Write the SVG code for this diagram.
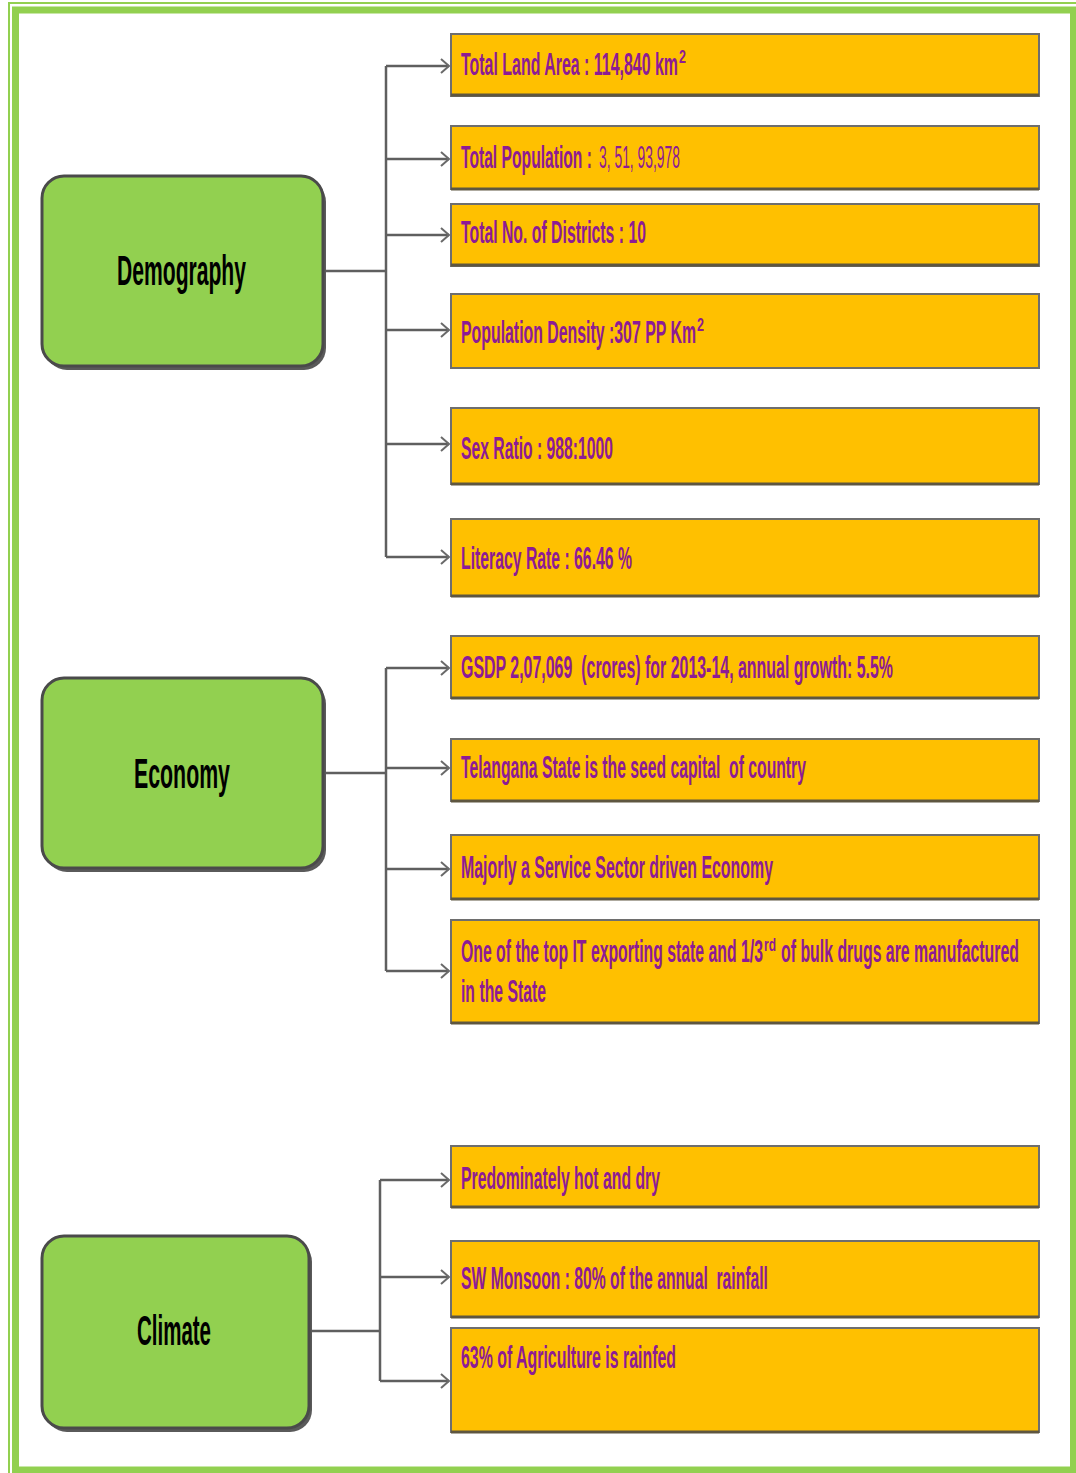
<svg xmlns="http://www.w3.org/2000/svg" width="1076" height="1473" viewBox="0 0 1076 1473">
  <defs>
    <style>
      .frame { fill: none; stroke: #92d050; }
      .cat-shadow { fill: #5a5a5a; }
      .cat { fill: #92d050; stroke: #4a4a4a; stroke-width: 3; }
      .cat-label { font-family: "Liberation Sans", Arial, sans-serif; font-weight: bold; font-size: 20px; fill: #000; }
      .fact { fill: #ffc000; stroke: #6e6e6e; stroke-width: 2; }
      .fact-base { stroke: #5e5640; stroke-width: 3; }
      .fact-label { font-family: "Liberation Sans", Arial, sans-serif; font-weight: bold; font-size: 15px; fill: #8d1b95; }
      .sup { font-size: 8.5px; }
      .num { font-weight: normal; }
      .wire { fill: none; stroke: #5f5f5f; stroke-width: 2.5; }
    </style>
    <marker id="chevron" markerWidth="12" markerHeight="16" refX="10" refY="8" orient="auto" markerUnits="userSpaceOnUse">
      <path d="M2,1 L10,8 L2,15" fill="none" stroke="#6a6a6a" stroke-width="2"/>
    </marker>
  </defs>

  <rect width="1076" height="1473" fill="#ffffff"/>

  <!-- page frame: thin outer rule and thick inner band -->
  <rect class="frame" x="9" y="3" width="1080" height="1480" stroke-width="2"/>
  <rect class="frame" x="15.5" y="10" width="1058" height="1460" stroke-width="7"/>

  <!-- connectors -->
  <g id="connectors">
    <path class="wire" d="M323,271 H386 M386,66 V557"/>
    <path class="wire" marker-end="url(#chevron)" d="M386,66 H449"/>
    <path class="wire" marker-end="url(#chevron)" d="M386,159 H449"/>
    <path class="wire" marker-end="url(#chevron)" d="M386,235 H449"/>
    <path class="wire" marker-end="url(#chevron)" d="M386,330 H449"/>
    <path class="wire" marker-end="url(#chevron)" d="M386,444 H449"/>
    <path class="wire" marker-end="url(#chevron)" d="M386,557 H449"/>

    <path class="wire" d="M323,773 H386 M386,668 V971"/>
    <path class="wire" marker-end="url(#chevron)" d="M386,668 H449"/>
    <path class="wire" marker-end="url(#chevron)" d="M386,768 H449"/>
    <path class="wire" marker-end="url(#chevron)" d="M386,869 H449"/>
    <path class="wire" marker-end="url(#chevron)" d="M386,971 H449"/>

    <path class="wire" d="M309,1331 H380 M380,1180 V1381"/>
    <path class="wire" marker-end="url(#chevron)" d="M380,1180 H449"/>
    <path class="wire" marker-end="url(#chevron)" d="M380,1277 H449"/>
    <path class="wire" marker-end="url(#chevron)" d="M380,1381 H449"/>
  </g>

  <!-- category nodes (labels stretched 2.1x vertically about their baselines) -->
  <g id="demography">
    <rect class="cat-shadow" x="45" y="180" width="281" height="190" rx="22"/>
    <rect class="cat" x="42" y="176" width="281" height="190" rx="22"/>
    <text class="cat-label" x="117" y="285" transform="matrix(1 0 0 2.1 0 -313.5)" textLength="129" lengthAdjust="spacingAndGlyphs">Demography</text>
  </g>
  <g id="economy">
    <rect class="cat-shadow" x="45" y="682" width="281" height="190" rx="22"/>
    <rect class="cat" x="42" y="678" width="281" height="190" rx="22"/>
    <text class="cat-label" x="134" y="788" transform="matrix(1 0 0 2.1 0 -866.8)" textLength="96" lengthAdjust="spacingAndGlyphs">Economy</text>
  </g>
  <g id="climate">
    <rect class="cat-shadow" x="45" y="1240" width="267" height="192" rx="22"/>
    <rect class="cat" x="42" y="1236" width="267" height="192" rx="22"/>
    <text class="cat-label" x="137" y="1345" transform="matrix(1 0 0 2.1 0 -1479.5)" textLength="74" lengthAdjust="spacingAndGlyphs">Climate</text>
  </g>

  <!-- demography facts -->
  <g id="land-area">
    <rect class="fact" x="451" y="34" width="588" height="62"/>
    <line class="fact-base" x1="451" y1="95" x2="1039" y2="95"/>
    <text class="fact-label" x="461" y="75" transform="matrix(1 0 0 2.1 0 -82.5)" textLength="217" lengthAdjust="spacingAndGlyphs">Total Land Area : 114,840 km</text>
    <text class="fact-label sup" x="679" y="63" transform="matrix(1 0 0 2.1 0 -69.3)" textLength="7" lengthAdjust="spacingAndGlyphs">2</text>
  </g>
  <g id="population">
    <rect class="fact" x="451" y="126" width="588" height="63"/>
    <line class="fact-base" x1="451" y1="189" x2="1039" y2="189"/>
    <text class="fact-label" x="461" y="168" transform="matrix(1 0 0 2.1 0 -184.8)" textLength="131" lengthAdjust="spacingAndGlyphs">Total Population :</text>
    <text class="fact-label num" x="599" y="168" transform="matrix(1 0 0 2.1 0 -184.8)" textLength="81" lengthAdjust="spacingAndGlyphs">3, 51, 93,978</text>
  </g>
  <g id="districts">
    <rect class="fact" x="451" y="204" width="588" height="62"/>
    <line class="fact-base" x1="451" y1="265" x2="1039" y2="265"/>
    <text class="fact-label" x="461" y="243" transform="matrix(1 0 0 2.1 0 -267.3)" textLength="185" lengthAdjust="spacingAndGlyphs">Total No. of Districts : 10</text>
  </g>
  <g id="density">
    <rect class="fact" x="451" y="294" width="588" height="74"/>
    <text class="fact-label" x="461" y="343" transform="matrix(1 0 0 2.1 0 -377.3)" textLength="235" lengthAdjust="spacingAndGlyphs">Population Density :307 PP Km</text>
    <text class="fact-label sup" x="697" y="331" transform="matrix(1 0 0 2.1 0 -364.1)" textLength="7" lengthAdjust="spacingAndGlyphs">2</text>
  </g>
  <g id="sex-ratio">
    <rect class="fact" x="451" y="408" width="588" height="76"/>
    <line class="fact-base" x1="451" y1="484" x2="1039" y2="484"/>
    <text class="fact-label" x="461" y="459" transform="matrix(1 0 0 2.1 0 -504.9)" textLength="152" lengthAdjust="spacingAndGlyphs">Sex Ratio : 988:1000</text>
  </g>
  <g id="literacy">
    <rect class="fact" x="451" y="519" width="588" height="77"/>
    <line class="fact-base" x1="451" y1="596" x2="1039" y2="596"/>
    <text class="fact-label" x="461" y="569" transform="matrix(1 0 0 2.1 0 -625.9)" textLength="171" lengthAdjust="spacingAndGlyphs">Literacy Rate : 66.46 %</text>
  </g>

  <!-- economy facts -->
  <g id="gsdp">
    <rect class="fact" x="451" y="636" width="588" height="62"/>
    <line class="fact-base" x1="451" y1="698" x2="1039" y2="698"/>
    <text class="fact-label" x="461" y="678" transform="matrix(1 0 0 2.1 0 -745.8)" textLength="432" lengthAdjust="spacingAndGlyphs" xml:space="preserve">GSDP 2,07,069  (crores) for 2013-14, annual growth: 5.5%</text>
  </g>
  <g id="seed-capital">
    <rect class="fact" x="451" y="739" width="588" height="62"/>
    <line class="fact-base" x1="451" y1="801" x2="1039" y2="801" stroke="#80808a"/>
    <text class="fact-label" x="461" y="778" transform="matrix(1 0 0 2.1 0 -855.8)" textLength="345" lengthAdjust="spacingAndGlyphs" xml:space="preserve">Telangana State is the seed capital  of country</text>
  </g>
  <g id="service-sector">
    <rect class="fact" x="451" y="835" width="588" height="64"/>
    <line class="fact-base" x1="451" y1="899" x2="1039" y2="899"/>
    <text class="fact-label" x="461" y="878" transform="matrix(1 0 0 2.1 0 -965.8)" textLength="312" lengthAdjust="spacingAndGlyphs">Majorly a Service Sector driven Economy</text>
  </g>
  <g id="it-exports">
    <rect class="fact" x="451" y="920" width="588" height="103"/>
    <line class="fact-base" x1="451" y1="1023" x2="1039" y2="1023"/>
    <text class="fact-label" x="461" y="962" transform="matrix(1 0 0 2.1 0 -1058.2)" textLength="302" lengthAdjust="spacingAndGlyphs">One of the top IT exporting state and 1/3</text>
    <text class="fact-label sup" x="764" y="951" transform="matrix(1 0 0 2.1 0 -1046.1)" textLength="12" lengthAdjust="spacingAndGlyphs">rd</text>
    <text class="fact-label" x="781" y="962" transform="matrix(1 0 0 2.1 0 -1058.2)" textLength="238" lengthAdjust="spacingAndGlyphs">of bulk drugs are manufactured</text>
    <text class="fact-label" x="461" y="1002" transform="matrix(1 0 0 2.1 0 -1102.2)" textLength="85" lengthAdjust="spacingAndGlyphs">in the State</text>
  </g>

  <!-- climate facts -->
  <g id="hot-dry">
    <rect class="fact" x="451" y="1146" width="588" height="61"/>
    <line class="fact-base" x1="451" y1="1207" x2="1039" y2="1207"/>
    <text class="fact-label" x="461" y="1189" transform="matrix(1 0 0 2.1 0 -1307.9)" textLength="199" lengthAdjust="spacingAndGlyphs">Predominately hot and dry</text>
  </g>
  <g id="monsoon">
    <rect class="fact" x="451" y="1241" width="588" height="76"/>
    <line class="fact-base" x1="451" y1="1317" x2="1039" y2="1317"/>
    <text class="fact-label" x="461" y="1289" transform="matrix(1 0 0 2.1 0 -1417.9)" textLength="307" lengthAdjust="spacingAndGlyphs" xml:space="preserve">SW Monsoon : 80% of the annual  rainfall</text>
  </g>
  <g id="rainfed">
    <rect class="fact" x="451" y="1328" width="588" height="104"/>
    <line class="fact-base" x1="451" y1="1432" x2="1039" y2="1432" stroke="#c89a18"/>
    <text class="fact-label" x="461" y="1368" transform="matrix(1 0 0 2.1 0 -1504.8)" textLength="215" lengthAdjust="spacingAndGlyphs">63% of Agriculture is rainfed</text>
  </g>
</svg>
